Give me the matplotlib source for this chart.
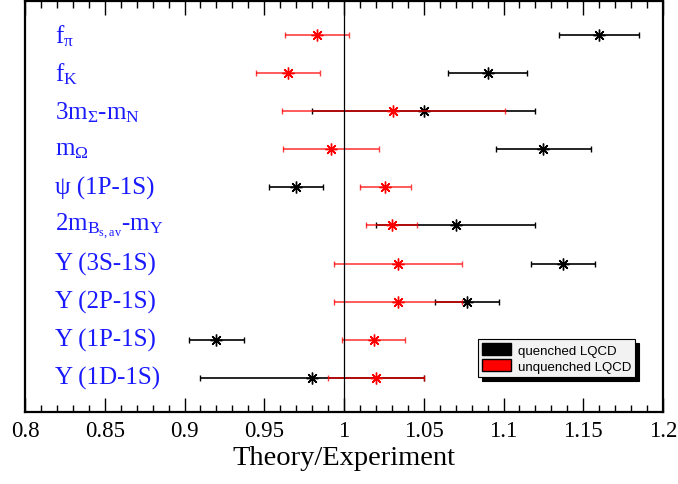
import numpy as np
import matplotlib
matplotlib.use('Agg')
import matplotlib.pyplot as plt
from matplotlib.patches import Patch
from matplotlib.ticker import MultipleLocator

plt.rcParams['font.family'] = ['Liberation Serif', 'DejaVu Serif']
plt.rcParams['mathtext.fontset'] = 'custom'
plt.rcParams['mathtext.rm'] = 'Liberation Serif'
plt.rcParams['mathtext.it'] = 'Liberation Serif:italic'

# 观测量, 从上到下
labels = [r'f$_{\mathrm{\pi}}$', r'f$_{\mathrm{K}}$', r'3m$_{\mathrm{\Sigma}}$-m$_{\mathrm{N}}$',
          r'm$_{\mathrm{\Omega}}$', 'ψ (1P-1S)', r'2m$_{\mathrm{B_{s,av}}}$-m$_{\mathrm{\Upsilon}}$',
          'Υ\u2009(3S-1S)', 'Υ\u2009(2P-1S)', 'Υ\u2009(1P-1S)', 'Υ\u2009(1D-1S)']

# quenched LQCD
q_val = [1.160, 1.090, 1.050, 1.125, 0.970, 1.070, 1.1375, 1.077, 0.920, 0.980]
q_err = [0.025, 0.025, 0.070, 0.030, 0.017, 0.050, 0.020, 0.020, 0.017, 0.070]
# unquenched LQCD
u_val = [0.983, 0.965, 1.031, 0.992, 1.026, 1.030, 1.034, 1.034, 1.0185, 1.020]
u_err = [0.020, 0.020, 0.070, 0.030, 0.016, 0.016, 0.040, 0.040, 0.020, 0.030]

rows = np.arange(len(labels), 0, -1)

fig = plt.figure(figsize=(6.78, 4.85), dpi=100)
ax = fig.add_axes([0.0369, 0.1485, 0.9410, 0.8475])

star = (8, 2, 0)  # 米字形, 类似 ROOT 的 marker 3
ax.errorbar(q_val, rows, xerr=q_err, fmt='none', ecolor='black', elinewidth=1.2,
            capsize=2.5, capthick=1.0)
ax.plot(q_val, rows, ls='none', marker=star, ms=8.5, mew=1.0, color='black')
ax.errorbar(u_val, rows, xerr=u_err, fmt='none', ecolor='red', elinewidth=1.2,
            capsize=2.5, capthick=1.0, alpha=0.75)
ax.plot(u_val, rows, ls='none', marker=star, ms=8.5, mew=1.0, color='red')

ax.axvline(1.0, color='black', lw=0.9)

for r, lab in zip(rows, labels):
    ax.text(0.047, r, lab, transform=ax.get_yaxis_transform(), color='#1a1aff',
            fontsize=18, va='center', ha='left')

ax.set_xlim(0.8, 1.2)
ax.set_ylim(0.1, 10.9)
ax.xaxis.set_major_locator(MultipleLocator(0.05))
ax.xaxis.set_minor_locator(MultipleLocator(0.01))
ax.xaxis.set_major_formatter(matplotlib.ticker.FuncFormatter(lambda v, p: '%g' % round(v, 3)))
ax.tick_params(axis='x', which='both', direction='in', top=True, labelsize=16.5, pad=6)
ax.tick_params(axis='x', which='major', length=10, width=1.0)
ax.tick_params(axis='x', which='minor', length=5, width=1.0)
ax.set_yticks([])
for s in ax.spines.values():
    s.set_linewidth(1.6)

ax.set_xlabel('Theory/Experiment', fontsize=20.5, labelpad=3)

handles = [Patch(facecolor='black', edgecolor='black', label='quenched LQCD'),
           Patch(facecolor='red', edgecolor='black', label='unquenched LQCD')]
leg = ax.legend(handles=handles, loc='lower left', bbox_to_anchor=(0.71, 0.086),
                borderaxespad=0, fancybox=False, edgecolor='black', facecolor='#f2f2f2',
                framealpha=1, prop={'family': 'Liberation Sans', 'size': 9.5},
                handlelength=2.2, handleheight=1.0, handletextpad=0.5,
                borderpad=0.3, labelspacing=0.2,
                shadow={'ox': 3, 'oy': -3, 'color': 'black', 'alpha': 1})
leg.get_frame().set_linewidth(0.8)

fig.savefig('out.png', dpi=100)
